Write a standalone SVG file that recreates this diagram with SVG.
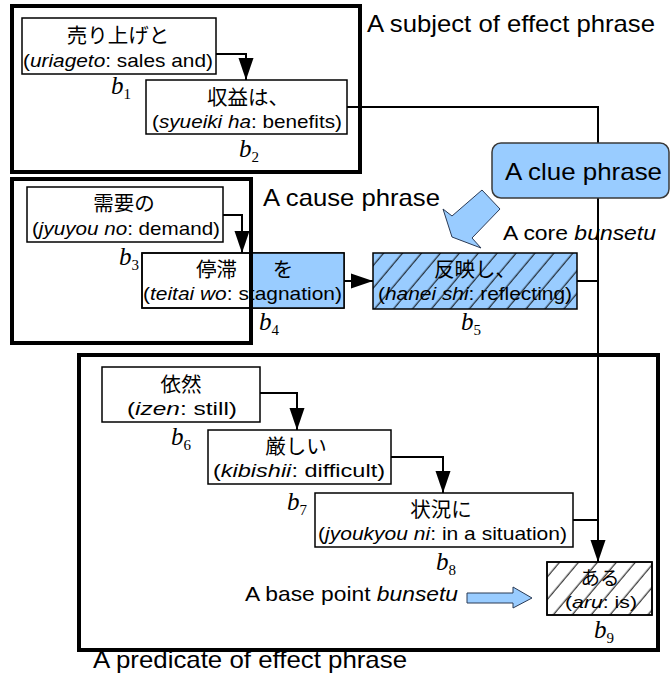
<svg xmlns="http://www.w3.org/2000/svg" width="670" height="682" viewBox="0 0 670 682">
<style>
.bg{fill:#fff}
.box{fill:#fff;stroke:#000;stroke-width:1.5}
.outline{fill:none;stroke:#000;stroke-width:1.5}
.blue{fill:#99ccff}
.hatch{fill:url(#hatch)}
.frame{fill:none;stroke:#000;stroke-width:4}
.jp{font-family:"Noto Sans CJK JP","Noto Sans",sans-serif;font-size:20.5px;text-anchor:middle;fill:#000}
.en{font-family:"Liberation Sans",Arial,sans-serif;font-size:19px;text-anchor:middle;fill:#000}
.it{font-style:italic}
.lbl{font-family:"Liberation Sans",Arial,sans-serif;font-size:24px;fill:#000}
.lbl2{font-family:"Liberation Sans",Arial,sans-serif;font-size:21px;fill:#000}
.bl{font-family:"Liberation Serif","Times New Roman",serif;font-size:25px;font-style:italic;fill:#000}
.sub{font-style:normal;font-size:15px}
.conn{fill:none;stroke:#000;stroke-width:2}
.barrow{fill:#99ccff;stroke:#2a3a55;stroke-width:1}
</style>
<defs>
<marker id="ah" markerUnits="userSpaceOnUse" markerWidth="22" markerHeight="16" refX="22" refY="8" orient="auto">
<path d="M0,0.5 L22,8 L0,15.5 Z" fill="#000"/>
</marker>
<pattern id="hatch" patternUnits="userSpaceOnUse" width="14.5" height="14.5" patternTransform="rotate(40)">
<line x1="7" y1="0" x2="7" y2="14.5" stroke="#000" stroke-width="1"/>
</pattern>
</defs>
<rect class="bg" x="0" y="0" width="670" height="682"/>

<g id="connectors">
<path class="conn" d="M216,54 H246 V80" marker-end="url(#ah)"/>
<path class="conn" d="M347,107 H598 V562" marker-end="url(#ah)"/>
<path class="conn" d="M223,215 H242 V253" marker-end="url(#ah)"/>
<path class="conn" d="M344,281 H373" marker-end="url(#ah)"/>
<path class="conn" d="M577,281 H598"/>
<path class="conn" d="M260,393 H297 V430" marker-end="url(#ah)"/>
<path class="conn" d="M391,457 H443 V493" marker-end="url(#ah)"/>
<path class="conn" d="M573,520 H598"/>
</g>

<g id="b1">
<rect class="box" x="22" y="18" width="194" height="56"/>
<text class="jp" x="118" y="43">売り上げと</text>
<text class="en" x="118" y="67" textLength="190" lengthAdjust="spacingAndGlyphs">(<tspan class="it">uriageto</tspan>: sales and)</text>
<text class="bl" x="111" y="94">b<tspan class="sub" dy="5">1</tspan></text>
</g>

<g id="b2">
<rect class="box" x="146" y="80" width="201" height="54"/>
<text class="jp" x="248" y="105">収益は、</text>
<text class="en" x="247" y="128" textLength="190" lengthAdjust="spacingAndGlyphs">(<tspan class="it">syueiki ha</tspan>: benefits)</text>
<text class="bl" x="239" y="157">b<tspan class="sub" dy="5">2</tspan></text>
</g>

<g id="b3">
<rect class="box" x="27" y="187" width="196" height="55"/>
<text class="jp" x="124" y="211">需要の</text>
<text class="en" x="126" y="235" textLength="188" lengthAdjust="spacingAndGlyphs">(<tspan class="it">jyuyou no</tspan>: demand)</text>
<text class="bl" x="119" y="265">b<tspan class="sub" dy="5">3</tspan></text>
</g>

<g id="b4">
<rect class="box" x="142" y="253" width="202" height="55"/>
<rect class="blue" x="251" y="253" width="93" height="55"/>
<rect class="outline" x="142" y="253" width="202" height="55"/>
<text class="jp" y="277"><tspan x="216.5">停滞</tspan><tspan x="283">を</tspan></text>
<text class="en" x="242.5" y="300" textLength="199" lengthAdjust="spacingAndGlyphs">(<tspan class="it">teitai wo</tspan>: stagnation)</text>
<text class="bl" x="259" y="330">b<tspan class="sub" dy="5">4</tspan></text>
</g>

<g id="b5">
<rect class="blue" x="373" y="253" width="204" height="56"/>
<rect class="hatch" x="373" y="253" width="204" height="56"/>
<rect class="outline" x="373" y="253" width="204" height="56"/>
<text class="jp" x="475" y="277">反映し、</text>
<text class="en" x="475" y="300" textLength="194" lengthAdjust="spacingAndGlyphs">(<tspan class="it">hanei shi</tspan>: reflecting)</text>
<text class="bl" x="461" y="330">b<tspan class="sub" dy="5">5</tspan></text>
</g>

<g id="b6">
<rect class="box" x="102" y="367" width="158" height="55"/>
<text class="jp" x="181" y="392">依然</text>
<text class="en" x="182" y="415" textLength="110" lengthAdjust="spacingAndGlyphs">(<tspan class="it">izen</tspan>: still)</text>
<text class="bl" x="171" y="445">b<tspan class="sub" dy="5">6</tspan></text>
</g>

<g id="b7">
<rect class="box" x="208" y="430" width="183" height="54"/>
<text class="jp" x="296" y="454">厳しい</text>
<text class="en" x="299" y="477" textLength="172" lengthAdjust="spacingAndGlyphs">(<tspan class="it">kibishii</tspan>: difficult)</text>
<text class="bl" x="287" y="510">b<tspan class="sub" dy="5">7</tspan></text>
</g>

<g id="b8">
<rect class="box" x="315" y="493" width="258" height="54"/>
<text class="jp" x="441" y="517">状況に</text>
<text class="en" x="442.5" y="540" textLength="249" lengthAdjust="spacingAndGlyphs">(<tspan class="it">jyoukyou ni</tspan>: in a situation)</text>
<text class="bl" x="436" y="570">b<tspan class="sub" dy="5">8</tspan></text>
</g>

<g id="b9">
<rect class="box" x="547" y="562" width="105" height="53"/>
<rect class="hatch" x="547" y="562" width="105" height="53"/>
<rect class="outline" x="547" y="562" width="105" height="53"/>
<text class="jp" x="600" y="585" style="font-size:19.5px">ある</text>
<text class="en" x="601" y="608" textLength="72" lengthAdjust="spacingAndGlyphs" style="font-size:17px">(<tspan class="it">aru</tspan>: is)</text>
<text class="bl" x="594" y="638">b<tspan class="sub" dy="5">9</tspan></text>
</g>

<g id="subject-phrase">
<rect class="frame" x="12" y="6" width="348" height="166"/>
<text class="lbl" x="367" y="32" textLength="288" lengthAdjust="spacingAndGlyphs">A subject of effect phrase</text>
</g>

<g id="cause-phrase">
<rect class="frame" x="12" y="179" width="239" height="164"/>
<text class="lbl" x="263" y="206" textLength="177" lengthAdjust="spacingAndGlyphs">A cause phrase</text>
</g>

<g id="predicate-phrase">
<rect class="frame" x="79" y="355" width="579" height="295"/>
<text class="lbl" x="93" y="668" textLength="314" lengthAdjust="spacingAndGlyphs">A predicate of effect phrase</text>
</g>

<g id="clue-phrase">
<rect x="492" y="143" width="177" height="55" rx="9" ry="9" fill="#99ccff" stroke="#3a3a3a" stroke-width="1.5"/>
<text class="lbl" x="505" y="180" textLength="157" lengthAdjust="spacingAndGlyphs">A clue phrase</text>
<polygon class="barrow" points="482,190 500,209 472,238 481,248 452,237 443,209 452,216"/>
</g>

<g id="core-bunsetu">
<text class="lbl2" x="503" y="240" textLength="153" lengthAdjust="spacingAndGlyphs">A core <tspan class="it">bunsetu</tspan></text>
</g>

<g id="base-point-bunsetu">
<text class="lbl2" x="245" y="601" textLength="213" lengthAdjust="spacingAndGlyphs">A base point <tspan class="it">bunsetu</tspan></text>
<polygon class="barrow" points="467,593 513,593 513,587 532,598 513,608 513,603 467,603"/>
</g>
</svg>
